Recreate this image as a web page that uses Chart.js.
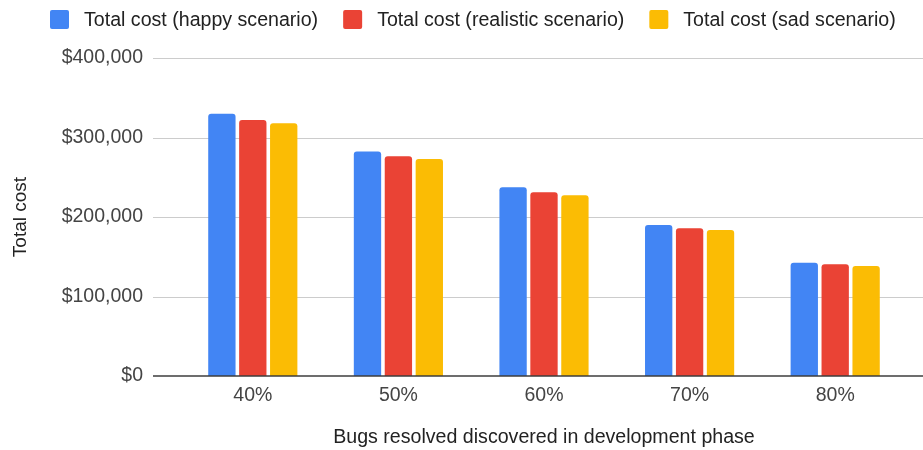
<!DOCTYPE html>
<html>
<head>
<meta charset="utf-8">
<script src="https://cdn.jsdelivr.net/npm/chart.js@4"></script>
<style>
  html, body { margin: 0; padding: 0; background: #fff; }
  #wrap { width: 923px; height: 450px; }
</style>
</head>
<body>
<div id="wrap"><canvas id="costChart"></canvas></div>
<script>
var categories = ['40%', '50%', '60%', '70%', '80%'];
var happyCost = [330000, 282500, 237500, 190000, 142500];
var realisticCost = [322000, 276500, 231000, 186000, 140500];
var sadCost = [318000, 273000, 227500, 183500, 138500];
var seriesNames = ['Total cost (happy scenario)', 'Total cost (realistic scenario)', 'Total cost (sad scenario)'];
var yTicks = [0, 100000, 200000, 300000, 400000];

var FONT = '"Liberation Sans", Arial, sans-serif';

// grid lines run past the category band, like in the sheet export
var gridPlugin = {
    id: 'wideGrid',
    beforeDatasetsDraw: function (chart) {
        var ctx = chart.ctx, y = chart.scales.y;
        ctx.save();
        ctx.strokeStyle = '#cccccc';
        ctx.lineWidth = 1;
        yTicks.forEach(function (v) {
            if (v === 0) return;
            var py = Math.round(y.getPixelForValue(v)) + 0.5;
            ctx.beginPath();
            ctx.moveTo(153, py);
            ctx.lineTo(923, py);
            ctx.stroke();
        });
        ctx.restore();
    },
    afterDatasetsDraw: function (chart) {
        var ctx = chart.ctx, y = chart.scales.y;
        var py = y.getPixelForValue(0);
        ctx.save();
        ctx.strokeStyle = '#3c3c3c';
        ctx.lineWidth = 1.6;
        ctx.beginPath();
        ctx.moveTo(153, py);
        ctx.lineTo(923, py);
        ctx.stroke();
        ctx.restore();
    }
};

// legend drawn by hand to get the spacing right
var legendPlugin = {
    id: 'topLegend',
    afterDraw: function (chart) {
        var ctx = chart.ctx;
        var x = 50, top = 10, box = 19;
        ctx.save();
        ctx.font = '19.6px ' + FONT;
        ctx.textBaseline = 'middle';
        ctx.textAlign = 'left';
        chart.data.datasets.forEach(function (ds) {
            ctx.fillStyle = ds.backgroundColor;
            ctx.beginPath();
            ctx.roundRect(x, top, box, box, 2);
            ctx.fill();
            ctx.fillStyle = '#222222';
            ctx.fillText(ds.label, x + box + 15, top + box / 2 + 1);
            x += box + 15 + ctx.measureText(ds.label).width + 25;
        });
        ctx.restore();
    }
};

var ctx1 = document.getElementById('costChart').getContext('2d');
var costChart = new Chart(ctx1, {
    type: 'bar',
    data: {
        labels: categories,
        datasets: [{
            label: seriesNames[0],
            data: happyCost,
            backgroundColor: '#4285F4'
        }, {
            label: seriesNames[1],
            data: realisticCost,
            backgroundColor: '#EA4335'
        }, {
            label: seriesNames[2],
            data: sadCost,
            backgroundColor: '#FBBC04'
        }]
    },
    options: {
        responsive: true,
        maintainAspectRatio: false,
        animation: false,
        layout: {
            padding: { top: 58, right: 15, left: 0, bottom: 0 }
        },
        datasets: {
            bar: {
                categoryPercentage: 0.637,
                barPercentage: 0.884,
                borderRadius: 3
            }
        },
        scales: {
            x: {
                grid: { display: false, drawTicks: false },
                border: { display: false },
                ticks: {
                    color: '#444444',
                    padding: 8,
                    font: { family: FONT, size: 19.5 }
                },
                title: {
                    display: true,
                    text: 'Bugs resolved discovered in development phase',
                    color: '#222222',
                    padding: { top: 0, bottom: 1 },
                    font: { family: FONT, size: 19.6 }
                },
                afterFit: function (scale) { scale.height = 74; }
            },
            y: {
                min: 0,
                max: 400000,
                grid: { display: false, drawTicks: false },
                border: { display: false },
                afterBuildTicks: function (scale) {
                    scale.ticks = yTicks.map(function (v) { return { value: v }; });
                },
                ticks: {
                    color: '#444444',
                    padding: 37,
                    font: { family: FONT, size: 19.5 },
                    callback: function (value) {
                        return '$' + Number(value).toLocaleString('en-US');
                    }
                },
                title: {
                    display: true,
                    text: 'Total cost',
                    color: '#222222',
                    padding: { top: 9, bottom: 0 },
                    font: { family: FONT, size: 19 }
                },
                afterFit: function (scale) { scale.width = 180; }
            }
        },
        plugins: {
            legend: { display: false },
            tooltip: { enabled: false }
        }
    },
    plugins: [gridPlugin, legendPlugin]
});
</script>
</body>
</html>
